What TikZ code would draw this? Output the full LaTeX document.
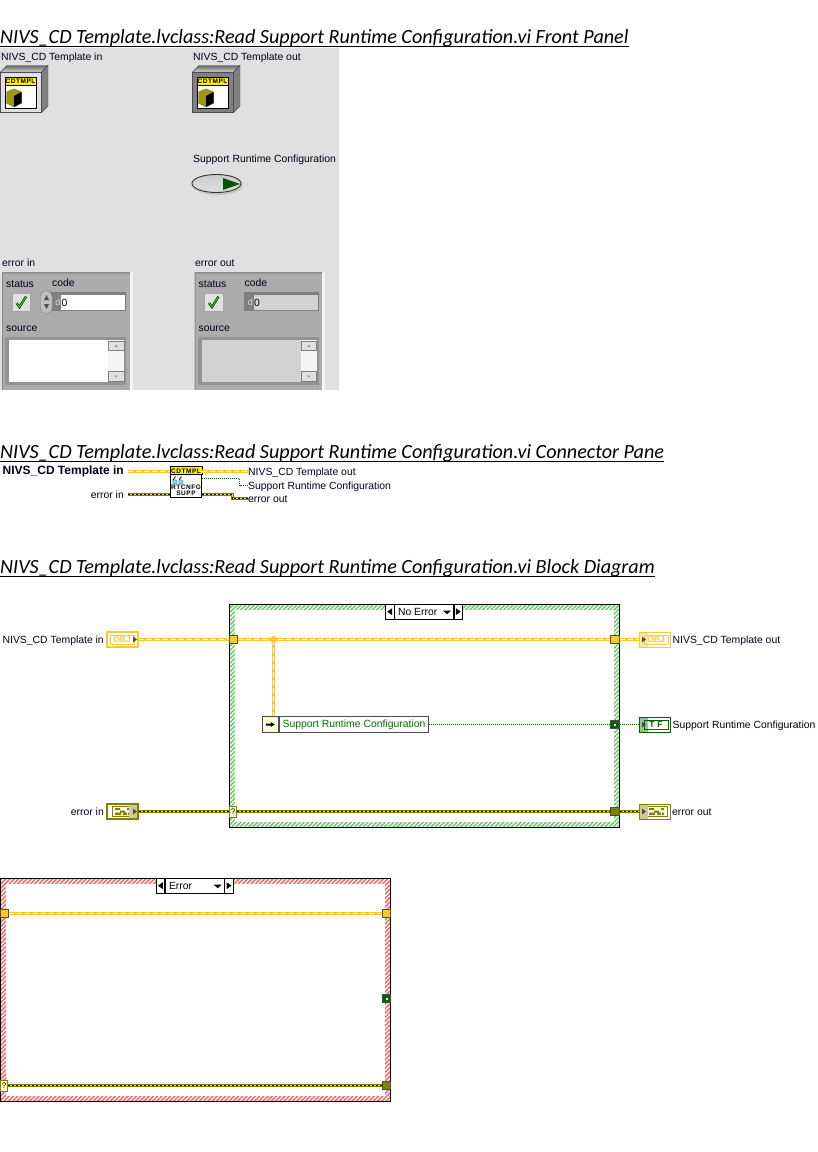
\documentclass[tikz,border=0pt]{standalone}
\usepackage{fontspec}
\setmainfont{Liberation Sans}
\newfontfamily\titlefont{Carlito}
\newfontfamily\tinyfont[LetterSpace=8]{Liberation Sans}
\usetikzlibrary{patterns.meta, calc, positioning}
\definecolor{panelgray}{HTML}{E0E0E0}
\definecolor{clustergray}{HTML}{ACACAC}
\definecolor{wireyellow}{HTML}{FFC82D}
\definecolor{wireolive}{HTML}{7F7F00}
\definecolor{wiregreen}{HTML}{006400}
\definecolor{hatchgreen}{HTML}{70CC70}
\definecolor{hatchred}{HTML}{EE6E6E}
\tikzset{
	titletext/.style={anchor=west, inner sep=0pt, text height=14pt, text depth=3.5pt, font=\titlefont\itshape\fontsize{20.15}{22}\selectfont},
	titleline/.style={line width=1.4pt},
	labeltext/.style={inner sep=0pt, text height=7.5pt, text depth=0.5pt, font=\fontsize{10.4}{12}\selectfont, text=black!90!blue},
	classwire/.style={draw=wireyellow, line width=3pt, postaction={draw=white, line width=1pt, dash pattern=on 5pt off 3pt}},
	errorwire/.style={draw=wireolive, line width=3pt, postaction={draw=yellow, line width=1pt}, postaction={draw=black, line width=1pt, dash pattern=on 2pt off 2pt}},
	boolwire/.style={draw=wiregreen, line width=1pt, dash pattern=on 1pt off 1pt},
	terminal/.style={draw, minimum width=31pt, minimum height=15pt, inner sep=0pt, fill=white},
	tunnel/.style={draw=black!70, line width=0.8pt, minimum width=8.5pt, minimum height=8.5pt, inner sep=0pt},
	glyphtext/.style={inner sep=0pt, font=\bfseries\fontsize{8.5}{9}\selectfont},
	tinytext/.style={inner sep=0pt, font=\tinyfont\bfseries\fontsize{6.5}{6.5}\selectfont},
	selbox/.style={draw=black, line width=0.8pt, fill=white, minimum height=14.5pt, inner sep=0pt, font=\fontsize{10.4}{12}\selectfont},
	hatchframe/.style={draw=black, line width=1pt, minimum width=390pt, minimum height=223pt, inner sep=0pt, pattern={Lines[angle=45, distance=3pt, line width=1.6pt]}}
}
% class control of the front panel
\newcommand{\clscontrol}[2]{
	\begin{scope}[shift={(#1,0)}]
		\draw[black!70, top color=gray!80!black, bottom color=gray!30] (0.5,72) -- (7,65.5) -- (48,65.5) -- (41.5,72) -- cycle;
		\draw[black!70, fill=gray] (41.5,72) -- (48,65.5) -- (48,106) -- (41.5,112.5) -- cycle;
		\draw[black!70, fill=#2] (0.5,72) rectangle (41.5,112.5);
		\draw[black, fill=white] (5,77) rectangle (36,108);
		\draw[black, fill=yellow] (5,77) rectangle (36,85);
		\node[tinytext] at (20.5,81) {CDTMPL};
		\fill[olive!85!yellow, draw=black!60] (6.5,92) -- (14,89) -- (21.5,92) -- (21.5,103) -- (14,107) -- (6.5,103) -- cycle;
		\fill[black] (14,96) -- (21.5,92) -- (21.5,103) -- (14,107) -- cycle;
	\end{scope}
}
% error cluster of the front panel
\newcommand{\errcluster}[3]{
	\begin{scope}[shift={(#1,0)}]
		\fill[white!60!panelgray] (0,272) rectangle (130.5,389.5);
		\fill[clustergray] (0,272) rectangle (127.5,389.5);
		\fill[gray!90] (0,272) rectangle (127.5,273.5) (0,272) rectangle (1,389.5);
		\node[labeltext, anchor=west] at (4,284) {status};
		\node[labeltext, anchor=west] at (50,283) {code};
		\node[labeltext, anchor=west] at (4,328) {source};
		\draw[gray!70, fill=panelgray, line width=1pt] (10,293) rectangle (28.5,311.5);
		\draw[black, line width=2.2pt] (14.5,303) -- (17.5,307) -- (24,296.5);
		\draw[green, line width=1pt] (14.5,303) -- (17.5,307) -- (24,296.5);
		\fill[gray] (49,291.5) rectangle (124,311);
		\fill[#2] (59,295) rectangle (123,310);
		\node[inner sep=0pt, font=\fontsize{9}{10}\selectfont, text=gray!30] at (56,302.5) {d};
		\node[labeltext, anchor=west] at (59.5,302.5) {0};
		\fill[gray!85] (3,337) rectangle (124,385);
		\fill[#2] (7,340) rectangle (122,382);
		\fill[white!92!gray] (106,340) rectangle (122,382);
		\draw[gray, fill=panelgray] (106.5,341) rectangle (122,350);
		\draw[gray, fill=panelgray] (106.5,371.5) rectangle (122,381);
		\fill[gray] (112.5,346.5) -- (116,346.5) -- (114.25,345) -- cycle;
		\fill[gray] (112.5,375.5) -- (116,375.5) -- (114.25,377) -- cycle;
		#3
	\end{scope}
}
% olive squares of the error terminals
\newcommand{\errbits}[1]{
	\begin{scope}[shift={(#1)}]
		\draw[wireolive, line width=0.7pt] (-10,-5) rectangle (11,5);
		\fill[wireolive] (-7,-3.5) rectangle (-2,-1.5) (-2,-1) rectangle (3,1) (-7,1) rectangle (-1,3.5) (1,1) rectangle (5,3.5) (5,-3.5) rectangle (8,-1.5) (6,1) rectangle (8,3.5);
	\end{scope}
}
\begin{document}
\begin{tikzpicture}[x=1pt, y=-1pt]
	\useasboundingbox (0,0) rectangle (818,1152);
	% front panel
	\fill[panelgray] (0,48) rectangle (339,390);
	\node[titletext] (titlepanel) at (0,37.75) {NIVS\_CD Template.lvclass:Read Support Runtime Configuration.vi Front Panel};
	\draw[titleline] (titlepanel.south west) -- (titlepanel.south east);
	\node[labeltext, anchor=west] (clsinlabel) at (1,57) {NIVS\_CD Template in};
	\node[labeltext, anchor=west] (clsoutlabel) at (193,57) {NIVS\_CD Template out};
	\clscontrol{0}{panelgray}
	\clscontrol{192}{gray}
	\node[labeltext, anchor=west] (supportlabel) at (193,159) {Support Runtime Configuration};
	\fill[gray!45] (218,185.5) ellipse (25 and 9.5);
	\draw[black!80, top color=gray!40, bottom color=panelgray, line width=0.9pt] (216.5,183.5) ellipse (24.5 and 9);
	\fill[wiregreen!85!black] (223,178) -- (240,184) -- (223,190) -- cycle;
	\node[labeltext, anchor=west] (errinlabel) at (2,263) {error in};
	\node[labeltext, anchor=west] (erroutlabel) at (195,263) {error out};
	\errcluster{2}{white}{
		\draw[gray, fill=gray!50, rounded corners=5pt] (38.5,291) rectangle (50,313.5);
		\fill[black!70] (42,300) -- (47,300) -- (44.5,295) -- cycle;
		\fill[black!70] (42,304) -- (47,304) -- (44.5,309) -- cycle;
	}
	\errcluster{194.5}{gray!35}{}
	% connector pane
	\node[titletext] (titlepane) at (0,452.75) {NIVS\_CD Template.lvclass:Read Support Runtime Configuration.vi Connector Pane};
	\draw[titleline] (titlepane.south west) -- (titlepane.south east);
	\node[draw=black, fill=white, line width=1pt, minimum width=31pt, minimum height=30pt, inner sep=0pt] (paneicon) at (186,482) {};
	\draw[black, fill=yellow] (paneicon.north west) rectangle ($(paneicon.north east)+(0,8)$);
	\node[tinytext] at (186,471) {CDTMPL};
	\draw[cyan!80!black, fill=cyan!50] (175,482) circle (2.3pt) (181,482) circle (2.3pt);
	\draw[black, line width=0.7pt] (173,480) -- (175.5,476.5) (179,480) -- (181.5,476.5);
	\node[tinytext] at (186,487.5) {RTCNFG};
	\node[tinytext] at (186,493) {SUPP};
	\node[labeltext, anchor=east, font=\bfseries\fontsize{12}{14}\selectfont] (paneclsin) at (124,471) {NIVS\_CD Template in};
	\node[labeltext, anchor=east] (paneerrin) at (124,495) {error in};
	\node[labeltext, anchor=west] (paneclsout) at (248,471.5) {NIVS\_CD Template out};
	\node[labeltext, anchor=west] (panesupport) at (248,485.5) {Support Runtime Configuration};
	\node[labeltext, anchor=west] (paneerrout) at (248,498.5) {error out};
	\coordinate (paneclsa) at (128,471.5);
	\coordinate (paneclsb) at (170,471.5);
	\coordinate (paneclsc) at (202,471.5);
	\draw[classwire] (paneclsa) -- (paneclsb);
	\draw[classwire] (paneclsc) -- (paneclsout.west);
	\coordinate (paneerra) at (128,494.5);
	\coordinate (paneerrb) at (170,494.5);
	\coordinate (paneerrc) at (202,494.5);
	\draw[errorwire] (paneerra) -- (paneerrb);
	\draw[errorwire] (paneerrc) -- (232,494.5) -- (232,498.5) -- (paneerrout.west);
	\coordinate (paneboola) at (202,478.5);
	\draw[boolwire] (paneboola) -- (239.5,478.5) -- (239.5,485.5) -- (panesupport.west);
	% block diagram, no error case
	\node[titletext] (titlediagram) at (0,567.75) {NIVS\_CD Template.lvclass:Read Support Runtime Configuration.vi Block Diagram};
	\draw[titleline] (titlediagram.south west) -- (titlediagram.south east);
	\node[hatchframe, pattern color=hatchgreen] (noerrframe) at (424.5,715.8) {};
	\node[fill=white, minimum width=379pt, minimum height=212pt, inner sep=0pt] (noerrinner) at (424.5,716) {};
	\node[selbox, minimum width=58.5pt, anchor=north] (noerrsel) at (424,604) {\makebox[56pt][l]{\hspace{2pt}No Error\hfill\raisebox{1pt}{\tikz[x=1pt,y=1pt]\fill (0,3.5) -- (8,3.5) -- (4,0) -- cycle;}\hspace{1pt}}};
	\node[selbox, minimum width=8.5pt, left=0pt of noerrsel] (noerrprev) {\tikz[x=1pt,y=1pt]\fill (0,3.5) -- (5,0) -- (5,7) -- cycle;};
	\node[selbox, minimum width=8.5pt, right=0pt of noerrsel] (noerrnext) {\tikz[x=1pt,y=1pt]\fill (5,3.5) -- (0,0) -- (0,7) -- cycle;};
	\node[terminal, draw=wireyellow, line width=2pt] (clsin) at (122.8,639.5) {};
	\node[draw=wireyellow, minimum width=24pt, minimum height=9pt, inner sep=0pt, glyphtext, text=wireyellow] at (122,639.5) {OBJ};
	\fill[black!70] (133,636.5) -- (137,639.5) -- (133,642.5) -- cycle;
	\node[terminal, draw=wireyellow, line width=1pt] (clsout) at (654.8,639.5) {};
	\fill[wireyellow!40] (640,632.5) rectangle (648,646.5);
	\node[draw=wireyellow, minimum width=24pt, minimum height=9pt, inner sep=0pt, glyphtext, text=wireyellow] at (656,639.5) {OBJ};
	\fill[black!70] (642,636.5) -- (646,639.5) -- (642,642.5) -- cycle;
	\node[terminal, draw=wiregreen, line width=1pt] (boolout) at (654.8,724.5) {};
	\fill[wiregreen!40] (640,717.5) rectangle (648,731.5);
	\node[draw=wiregreen, minimum width=24pt, minimum height=9pt, inner sep=0pt, glyphtext, text=wiregreen] at (656,724.5) {T\hspace{3pt}F};
	\fill[black!70] (642,721.5) -- (646,724.5) -- (642,727.5) -- cycle;
	\node[terminal, draw=wireolive, line width=2pt] (errin) at (122.8,811.5) {};
	\errbits{122,811.5}
	\fill[wireolive!40] (129,805) rectangle (137,818);
	\fill[black!70] (133,808.5) -- (137,811.5) -- (133,814.5) -- cycle;
	\node[terminal, draw=wireolive, line width=1pt] (errout) at (654.8,811.5) {};
	\errbits{656,811.5}
	\fill[wireolive!40] (640,804.5) rectangle (648,818.5);
	\fill[black!70] (642,808.5) -- (646,811.5) -- (642,814.5) -- cycle;
	\node[labeltext, anchor=east] (diaclsin) at (104,639.5) {NIVS\_CD Template in};
	\node[labeltext, anchor=east] (diaerrin) at (104,811.5) {error in};
	\node[labeltext, anchor=west] (diaclsout) at (672.5,639.5) {NIVS\_CD Template out};
	\node[labeltext, anchor=west] (diaboolout) at (672.5,724.5) {Support Runtime Configuration};
	\node[labeltext, anchor=west] (diaerrout) at (672,811.5) {error out};
	\node[tunnel, fill=wireyellow] (noerrclsl) at (233.5,639.5) {};
	\node[tunnel, fill=wireyellow] (noerrclsr) at (615,639.5) {};
	\node[tunnel, fill=wiregreen] (noerrboolr) at (615,724.5) {};
	\fill[white] (614,723.5) rectangle (616,725.5);
	\node[tunnel, fill=wireolive] (noerrerrr) at (615,811.5) {};
	\node[draw=wireolive, fill=yellow!15, line width=0.8pt, minimum width=7.5pt, minimum height=11pt, inner sep=0pt, font=\fontsize{8}{8}\selectfont] (noerrq) at (233,811.5) {?};
	\node[draw=black!70, fill=yellow!15, line width=0.8pt, minimum width=16pt, minimum height=16pt, inner sep=0pt] (propicon) at (270.3,724.5) {\tikz[x=1pt,y=1pt]\fill (0,1.5) -- (5,1.5) -- (5,0) -- (9,2.5) -- (5,5) -- (5,3.5) -- (0,3.5) -- cycle;};
	\node[draw=black!70, fill=white, line width=0.8pt, minimum height=16pt, inner sep=0pt, inner xsep=3.5pt, right=0pt of propicon, font=\fontsize{10.4}{12}\selectfont, text=green!45!black] (propname) {Support Runtime Configuration};
	\coordinate (clsbranch) at (273.5,639.5);
	\draw[classwire] (clsin.east) -- (noerrclsl.west);
	\draw[classwire] (noerrclsl.east) -- (noerrclsr.west);
	\draw[classwire] (noerrclsr.east) -- (clsout.west);
	\draw[classwire] (clsbranch) -- (clsbranch |- propicon.north);
	\fill[wireyellow] (clsbranch) circle (3.5pt);
	\fill[white] (273,639) rectangle (274,640);
	\draw[boolwire] (propname.east) -- (noerrboolr.west);
	\draw[boolwire] (noerrboolr.east) -- (boolout.west);
	\draw[errorwire] (errin.east) -- (noerrq.west);
	\draw[errorwire] (noerrq.east) -- (noerrerrr.west);
	\draw[errorwire] (noerrerrr.east) -- (errout.west);
	% error case
	\node[hatchframe, pattern color=hatchred] (errframe) at (195.5,990) {};
	\node[fill=white, minimum width=379pt, minimum height=212pt, inner sep=0pt] (errinner) at (195.5,990) {};
	\node[selbox, minimum width=58.5pt, anchor=north] (errsel) at (194.7,878) {\makebox[56pt][l]{\hspace{2.3pt}Error\hfill\raisebox{1pt}{\tikz[x=1pt,y=1pt]\fill (0,3.5) -- (8,3.5) -- (4,0) -- cycle;}\hspace{1pt}}};
	\node[selbox, minimum width=8.5pt, left=0pt of errsel] (errprev) {\tikz[x=1pt,y=1pt]\fill (0,3.5) -- (5,0) -- (5,7) -- cycle;};
	\node[selbox, minimum width=8.5pt, right=0pt of errsel] (errnext) {\tikz[x=1pt,y=1pt]\fill (5,3.5) -- (0,0) -- (0,7) -- cycle;};
	\node[tunnel, fill=wireyellow] (errclsl) at (4.5,913.5) {};
	\node[tunnel, fill=wireyellow] (errclsr) at (386.5,913.5) {};
	\node[tunnel, fill=wiregreen] (errboolr) at (386.5,998.5) {};
	\fill[white] (385.5,997.5) rectangle (387.5,999.5);
	\node[tunnel, fill=wireolive] (errerrr) at (386.5,1085.5) {};
	\node[draw=wireolive, fill=yellow!15, line width=0.8pt, minimum width=7.5pt, minimum height=11pt, inner sep=0pt, font=\fontsize{8}{8}\selectfont] (errq) at (4,1085.5) {?};
	\draw[classwire] (errclsl.east) -- (errclsr.west);
	\draw[errorwire] (errq.east) -- (errerrr.west);
\end{tikzpicture}
\end{document}
